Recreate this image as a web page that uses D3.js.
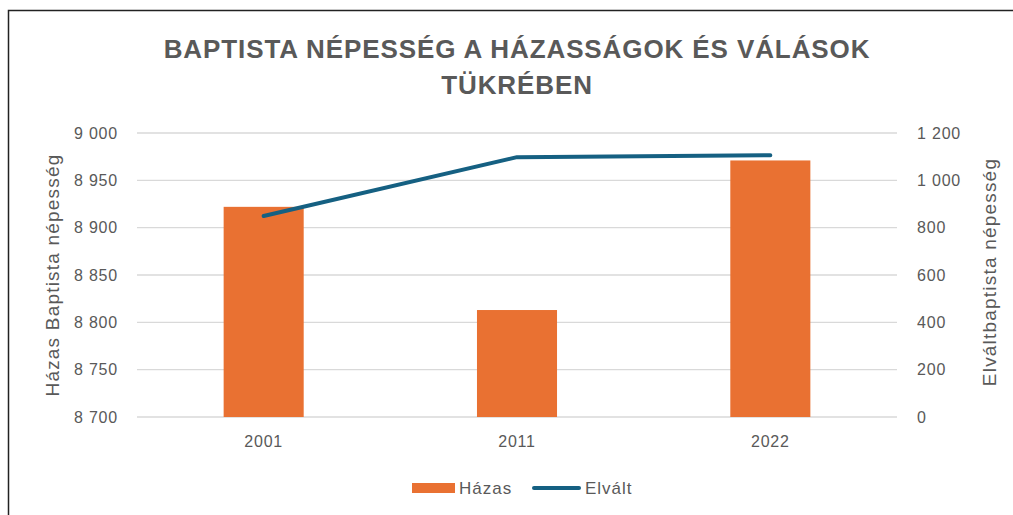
<!DOCTYPE html>
<html>
<head>
<meta charset="utf-8">
<script src="https://cdn.jsdelivr.net/npm/d3@7"></script>
<style>
  body { margin: 0; background: #fff; }
  svg text { font-family: "Liberation Sans", Arial, sans-serif; fill: #595959; }
</style>
</head>
<body>
<svg id="chart" width="1013" height="515"></svg>
<script>
var years = ["2001", "2011", "2022"];
var hazas = [8922, 8813, 8971];
var elvalt = [849, 1098, 1106];
var leftTicks = [8700, 8750, 8800, 8850, 8900, 8950, 9000];
var rightTicks = [0, 200, 400, 600, 800, 1000, 1200];
var titleLines = ["BAPTISTA NÉPESSÉG A HÁZASSÁGOK ÉS VÁLÁSOK", "TÜKRÉBEN"];

var svg = d3.select("#chart");
var plot = {left: 137, right: 897, top: 133, bottom: 417};

// outer frame (only top and left edges are visible in the crop)
svg.append("path")
  .attr("d", "M8.5,515 V10.5 H1013")
  .attr("fill", "none").attr("stroke", "#222").attr("stroke-width", 1.5);

var fmt = function(v){ return d3.format(",")(v).replace(/,/g, " "); };

var x = d3.scaleBand().domain(years).range([plot.left, plot.right]).paddingInner(0.684).paddingOuter(0.342);
var yL = d3.scaleLinear().domain([8700, 9000]).range([plot.bottom, plot.top]);
var yR = d3.scaleLinear().domain([0, 1200]).range([plot.bottom, plot.top]);

// title
svg.append("g").selectAll("text").data(titleLines).enter().append("text")
  .attr("x", 517).attr("y", function(d, i){ return 58 + i * 36; })
  .attr("text-anchor", "middle")
  .style("font-size", "26px").style("font-weight", "bold").style("letter-spacing", "0.9px")
  .text(function(d){ return d; });

// gridlines
svg.append("g").selectAll("line").data(leftTicks).enter().append("line")
  .attr("x1", plot.left).attr("x2", plot.right)
  .attr("y1", function(d){ return yL(d); }).attr("y2", function(d){ return yL(d); })
  .attr("stroke", "#d9d9d9").attr("stroke-width", 1.3);

function styleTicks(g) {
  g.select(".domain").remove();
  g.selectAll("text").style("font-size", "16px").style("letter-spacing", "0.8px").attr("fill", "#595959");
}

// left axis
svg.append("g").attr("transform", "translate(118,0)")
  .call(d3.axisLeft(yL).tickValues(leftTicks).tickFormat(fmt).tickSize(0).tickPadding(0))
  .call(styleTicks);

// right axis
svg.append("g").attr("transform", "translate(917,0)")
  .call(d3.axisRight(yR).tickValues(rightTicks).tickFormat(fmt).tickSize(0).tickPadding(0))
  .call(styleTicks);

// bottom axis
svg.append("g").attr("transform", "translate(0," + plot.bottom + ")")
  .call(d3.axisBottom(x).tickSize(0).tickPadding(19))
  .call(styleTicks);

// axis titles
svg.append("text")
  .attr("transform", "translate(59,275) rotate(-90)")
  .attr("text-anchor", "middle").style("font-size", "19px").style("letter-spacing", "1.2px")
  .text("Házas  Baptista népesség");
svg.append("text")
  .attr("transform", "translate(996,272) rotate(-90)")
  .attr("text-anchor", "middle").style("font-size", "19px").style("letter-spacing", "1.2px")
  .text("Elváltbaptista népesség");

// bars
svg.append("g").selectAll("rect").data(years).enter().append("rect")
  .attr("x", function(d){ return x(d); })
  .attr("width", x.bandwidth())
  .attr("y", function(d, i){ return yL(hazas[i]); })
  .attr("height", function(d, i){ return plot.bottom - yL(hazas[i]); })
  .attr("fill", "#E97132");

// line
var line = d3.line()
  .x(function(d, i){ return x(years[i]) + x.bandwidth() / 2; })
  .y(function(d){ return yR(d); });
svg.append("path").datum(elvalt)
  .attr("d", line)
  .attr("fill", "none").attr("stroke", "#156082")
  .attr("stroke-width", 4).attr("stroke-linecap", "round").attr("stroke-linejoin", "round");

// legend
var lg = svg.append("g");
lg.append("rect").attr("x", 412).attr("y", 483).attr("width", 43).attr("height", 10).attr("fill", "#E97132");
lg.append("text").attr("x", 459).attr("y", 494).style("font-size", "17px").style("letter-spacing", "1px").text("Házas");
lg.append("line").attr("x1", 534).attr("x2", 579).attr("y1", 488).attr("y2", 488)
  .attr("stroke", "#156082").attr("stroke-width", 4).attr("stroke-linecap", "round");
lg.append("text").attr("x", 585).attr("y", 494).style("font-size", "17px").style("letter-spacing", "1px").text("Elvált");
</script>
</body>
</html>
